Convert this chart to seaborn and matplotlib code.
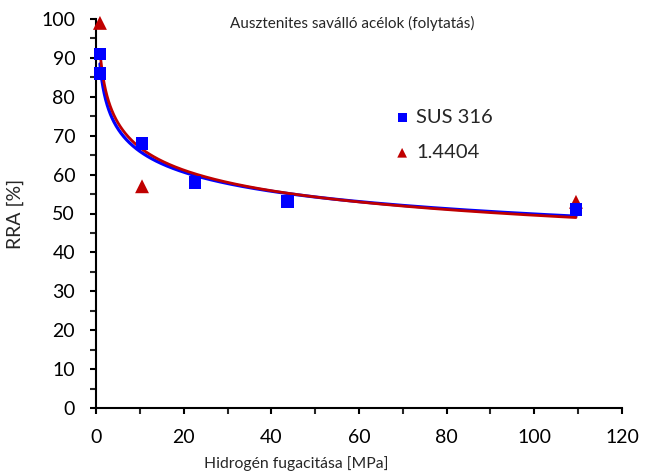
import numpy as np
import pandas as pd
import matplotlib
matplotlib.use("Agg")
import matplotlib.pyplot as plt
import seaborn as sns

# Data
sus_x = [0.9, 0.9, 10.5, 22.6, 43.6, 109.5]
sus_y = [86, 91, 68, 58, 53, 51]
ss_x = [0.9, 10.5, 109.5]
ss_y = [99, 57, 53]
series_names = ["SUS 316", "1.4404"]
x_ticks = [0, 20, 40, 60, 80, 100, 120]
y_ticks = [0, 10, 20, 30, 40, 50, 60, 70, 80, 90, 100]

sns.set_style("ticks")
plt.rcParams["font.family"] = ["Lato", "DejaVu Sans"]

fig = plt.figure(figsize=(6.49, 4.72), dpi=100)
ax = fig.add_axes([96/649, 64/472, 526/649, 389/472])

blue = "#0000FF"
red = "#C00000"

def power_fit(xs, ys):
    xs = np.asarray(xs, float); ys = np.asarray(ys, float)
    b, a = np.polyfit(np.log(xs), np.log(ys), 1)
    xx = np.geomspace(xs.min(), xs.max(), 300)
    return pd.DataFrame({"x": xx, "y": np.exp(a) * xx ** b})

fb = power_fit(sus_x, sus_y)
fr = power_fit(ss_x, ss_y)
sns.lineplot(data=fb, x="x", y="y", ax=ax, color=blue, lw=2.3, legend=False)
sns.lineplot(data=fr, x="x", y="y", ax=ax, color=red, lw=2.0, legend=False)

d1 = pd.DataFrame({"x": sus_x, "y": sus_y})
d2 = pd.DataFrame({"x": ss_x, "y": ss_y})
sns.scatterplot(data=d1, x="x", y="y", ax=ax, marker="s", color=blue, s=85,
                edgecolor="none", label=series_names[0], zorder=5, clip_on=False)
sns.scatterplot(data=d2, x="x", y="y", ax=ax, marker="^", color=red, s=100,
                edgecolor="none", label=series_names[1], zorder=4, clip_on=False)

ax.set_xlim(0, 120)
ax.set_ylim(0, 100)
ax.set_xticks(x_ticks)
ax.set_yticks(y_ticks)
ax.set_xticks(np.arange(0, 121, 10), minor=True)
ax.set_yticks(np.arange(0, 101, 5), minor=True)
ax.tick_params(axis="both", which="major", labelsize=14, length=4, width=1.5,
               direction="out", color="black", labelcolor="black")
ax.tick_params(axis="y", which="major", pad=11)
ax.tick_params(axis="x", which="major", pad=11)
ax.tick_params(axis="both", which="minor", length=4, width=1.5, direction="out")
for s in ["top", "right"]:
    ax.spines[s].set_visible(False)
for s in ["left", "bottom"]:
    ax.spines[s].set_linewidth(1.5)
    ax.spines[s].set_color("black")

ax.set_xlabel("")
ax.set_ylabel("RRA [%]", fontsize=14)
ax.yaxis.set_label_coords((24 - 96) / 526, 0.5)

leg = ax.legend(loc="upper left", bbox_to_anchor=(0.5475, 0.79), frameon=False,
                fontsize=14.5, handletextpad=0.2, labelspacing=0.9, borderaxespad=0,
                handlelength=1.0, markerscale=0.7)

fig.text(352/649, 1 - 23/472, "Ausztenites saválló acélok (folytatás)",
         ha="center", va="center", fontsize=11)
fig.text(296/649, 1 - 464/472, "Hidrogén fugacitása [MPa]",
         ha="center", va="center", fontsize=11.3)

fig.savefig("out.png", dpi=100)
